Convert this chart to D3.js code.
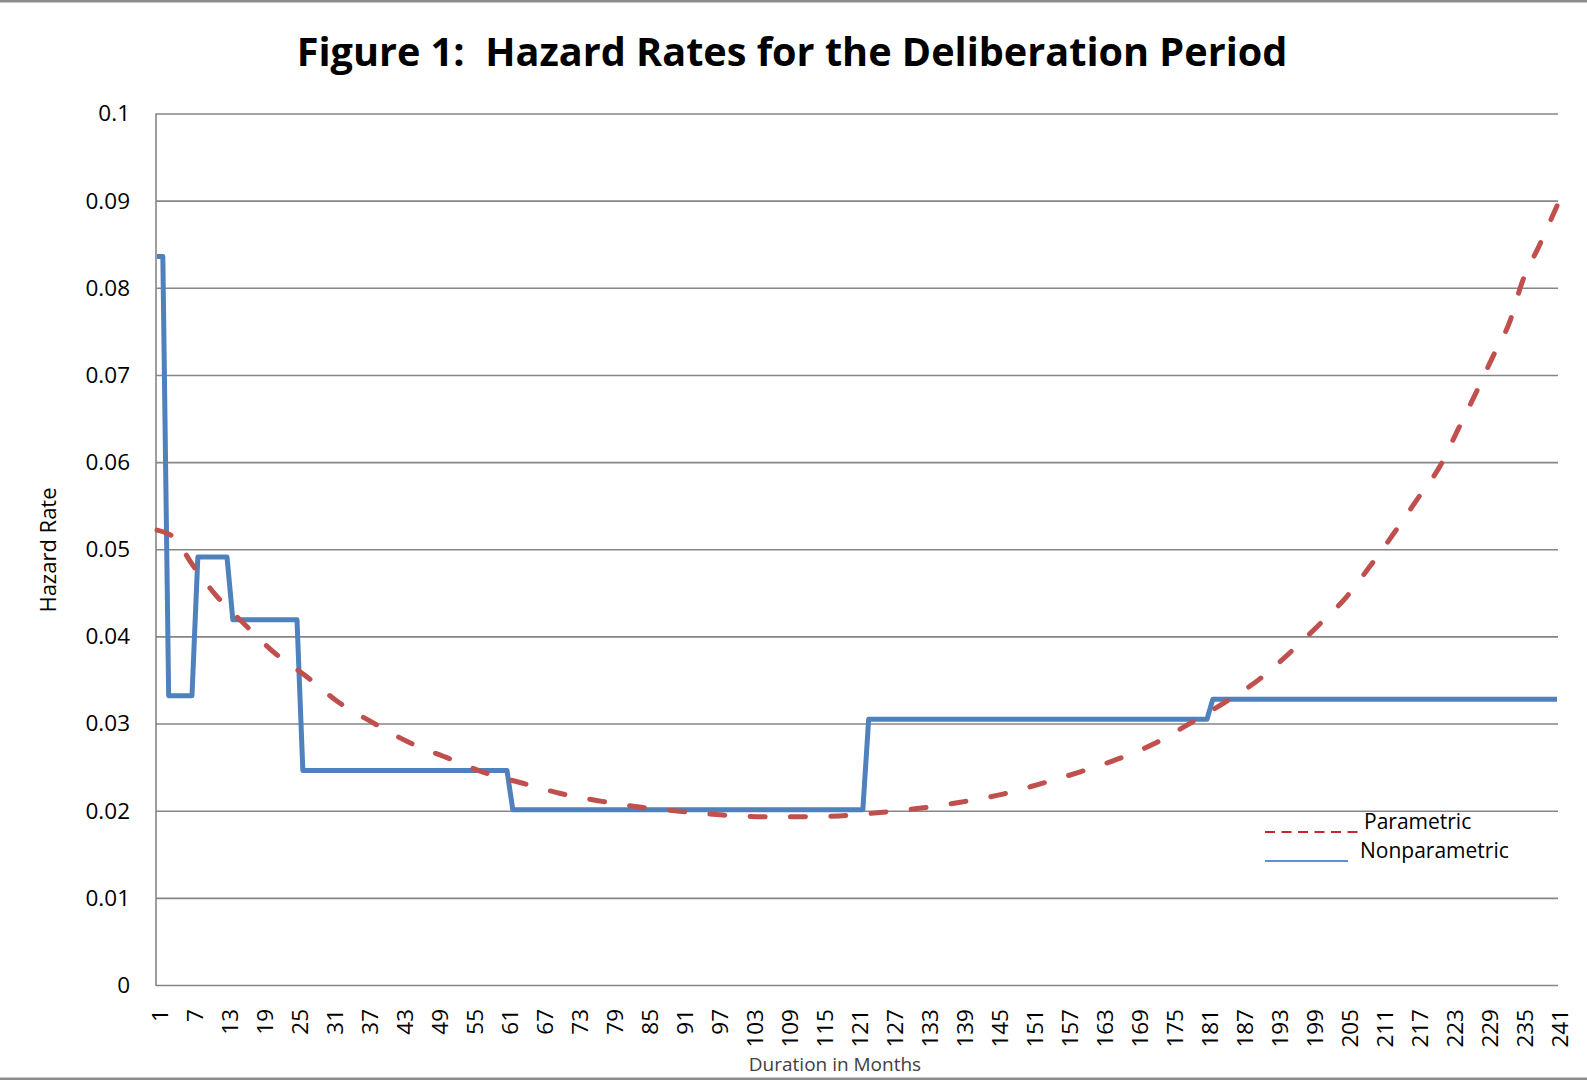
<!DOCTYPE html>
<html>
<head>
  <meta charset="utf-8">
  <title>Figure 1: Hazard Rates for the Deliberation Period</title>
  <script src="https://d3js.org/d3.v7.min.js"></script>
  <style>
    body { margin: 0; background: #fff; }
    svg text { font-family: "Open Sans", "Noto Sans", sans-serif; fill: #000; }
    .gridlines line { stroke: #868686; stroke-width: 1.6; }
    .gridlines .domain { stroke: none; }
  </style>
</head>
<body>
<svg id="chart" width="1587" height="1081"></svg>
<script>
  // data
  const months = d3.range(1, 242);                       // category axis 1..241
  const xTickLabels = d3.range(1, 242, 6);               // 1, 7, 13, ... 241
  const yTickValues = [0, 0.01, 0.02, 0.03, 0.04, 0.05, 0.06, 0.07, 0.08, 0.09, 0.1];

  // nonparametric hazard: months where the step series changes
  const npMonths = [1, 2, 3, 7, 8, 13, 14, 25, 26, 61, 62, 122, 123, 181, 182, 241];
  const npValues = [0.0836, 0.0836, 0.0332, 0.0332, 0.0491, 0.0491, 0.0419, 0.0419,
                    0.0246, 0.0246, 0.0201, 0.0201, 0.0305, 0.0305, 0.0328, 0.0328];

  // parametric hazard
  const pMonths = [1, 4, 7, 11, 16, 21, 27, 32, 38, 44, 51, 57, 64, 70, 77, 84, 91, 98, 105,
                   111, 118, 125, 132, 139, 146, 152, 159, 166, 172, 178, 184, 190, 195, 200,
                   205, 209, 213, 217, 221, 224, 227, 230, 233, 235, 238, 241];
  const pValues = [0.0522, 0.0513, 0.0483, 0.0448, 0.0414, 0.0382, 0.0352, 0.0325, 0.0301,
                   0.0279, 0.0260, 0.0244, 0.0231, 0.0220, 0.0211, 0.0204, 0.0199, 0.0195,
                   0.0193, 0.0193, 0.0194, 0.0198, 0.0203, 0.0210, 0.0219, 0.0230, 0.0244,
                   0.0260, 0.0277, 0.0300, 0.0324, 0.0351, 0.0380, 0.0412, 0.0446, 0.0481,
                   0.0518, 0.0557, 0.0596, 0.0637, 0.0678, 0.0721, 0.0763, 0.0806, 0.0849,
                   0.0894];

  const svg = d3.select("#chart");

  const plot = {left: 156, right: 1558, top: 113.5, bottom: 985};

  const xScale = d3.scalePoint()
    .domain(months)
    .range([157, 1557]);

  const yScale = d3.scaleLinear()
    .domain([0, 0.1])
    .range([plot.bottom, plot.top]);

  // frame lines top and bottom
  svg.append("rect").attr("x", 0).attr("y", 0).attr("width", 1587).attr("height", 2.5).attr("fill", "#8c8c8c");
  svg.append("rect").attr("x", 0).attr("y", 1077.5).attr("width", 1587).attr("height", 2.5).attr("fill", "#8c8c8c");

  // title (two spaces after the colon, as in the original)
  const title = svg.append("text")
    .attr("x", 792)
    .attr("y", 66)
    .attr("text-anchor", "middle")
    .style("font-weight", "bold")
    .style("font-size", "38px")
    .style("white-space", "pre")
    .text("Figure 1:  Hazard Rates for the Deliberation Period");
  const tw = title.node().getComputedTextLength();
  title.style("font-size", (38 * 991 / tw) + "px");

  // horizontal gridlines
  const yGrid = d3.axisLeft(yScale)
    .tickValues(yTickValues)
    .tickSize(-(plot.right - plot.left))
    .tickFormat("");
  svg.append("g")
    .attr("class", "gridlines")
    .attr("transform", `translate(${plot.left}, 0)`)
    .call(yGrid);

  // left axis line
  svg.append("line")
    .attr("x1", plot.left).attr("x2", plot.left)
    .attr("y1", plot.top).attr("y2", plot.bottom + 1)
    .attr("stroke", "#868686").attr("stroke-width", 1.6);

  // y tick labels
  svg.append("g").selectAll("text")
    .data(yTickValues)
    .join("text")
    .attr("x", 130)
    .attr("y", d => yScale(d))
    .attr("dy", "0.35em")
    .attr("text-anchor", "end")
    .style("font-size", "22.5px")
    .text(d => d === 0 ? "0" : String(+d.toFixed(2)));

  // x tick labels, rotated
  svg.append("g").selectAll("text")
    .data(xTickLabels)
    .join("text")
    .attr("transform", d => `translate(${xScale(d) + 11}, 1009) rotate(-90)`)
    .attr("text-anchor", "end")
    .style("font-size", "22.5px")
    .text(d => d);

  // axis titles
  svg.append("text")
    .attr("transform", "translate(56, 550) rotate(-90)")
    .attr("text-anchor", "middle")
    .style("font-size", "22px")
    .text("Hazard Rate");

  svg.append("text")
    .attr("x", 835)
    .attr("y", 1071)
    .attr("text-anchor", "middle")
    .style("font-size", "19px")
    .style("fill", "#404040")
    .text("Duration in Months");

  // series
  const npLine = d3.line()
    .x((d, i) => xScale(npMonths[i]))
    .y(d => yScale(d));

  svg.append("path")
    .datum(npValues)
    .attr("fill", "none")
    .attr("stroke", "#4f81bd")
    .attr("stroke-width", 5)
    .attr("stroke-linejoin", "round")
    .attr("d", npLine);

  const pLine = d3.line()
    .x((d, i) => xScale(pMonths[i]))
    .y(d => yScale(d))
    .curve(d3.curveMonotoneX);

  const pPath = svg.append("path")
    .datum(pValues)
    .attr("fill", "none")
    .attr("stroke", "#c0504d")
    .attr("stroke-width", 5)
    .attr("stroke-linecap", "round")
    .attr("d", pLine);

  // stretch the dash period a little so a dash sits on both ends
  const dash = 15;
  const len = pPath.node().getTotalLength();
  const period = (len - dash) / Math.round((len - dash) / 40);
  pPath.attr("stroke-dasharray", `${dash},${period - dash}`);

  // legend (hand drawn lines + text)
  const legend = svg.append("g");
  legend.append("line")
    .attr("x1", 1265).attr("x2", 1363).attr("y1", 832).attr("y2", 832)
    .attr("stroke", "#c9262b").attr("stroke-width", 2)
    .attr("stroke-dasharray", "10,6.5");
  legend.append("text")
    .attr("x", 1364).attr("y", 829)
    .style("font-size", "21px")
    .text("Parametric");
  legend.append("line")
    .attr("x1", 1265).attr("x2", 1348).attr("y1", 861).attr("y2", 861)
    .attr("stroke", "#5b8fd9").attr("stroke-width", 1.8);
  legend.append("text")
    .attr("x", 1360).attr("y", 858)
    .style("font-size", "21px")
    .text("Nonparametric");
</script>
</body>
</html>
